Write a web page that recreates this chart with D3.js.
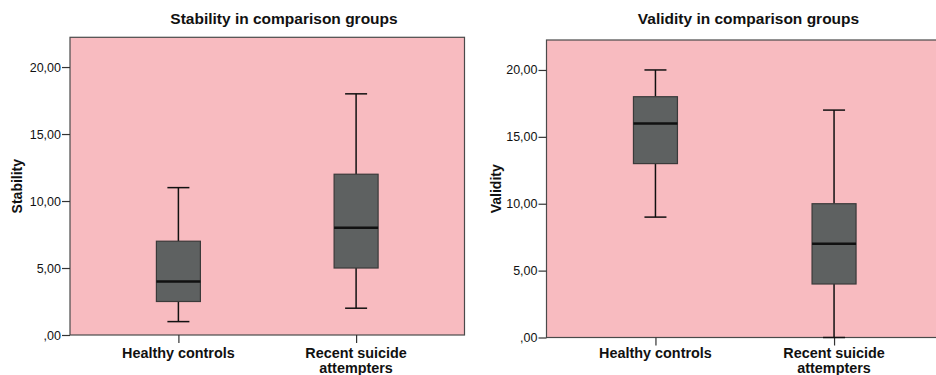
<!DOCTYPE html>
<html><head><meta charset="utf-8">
<script src="https://cdn.jsdelivr.net/npm/d3@7"></script>
<style>
html,body{margin:0;padding:0;background:#fff;}
svg{display:block;font-family:"Liberation Sans",Arial,sans-serif;}
</style></head>
<body><svg id="c" width="936" height="375"></svg>
<script>
// Data
const categories = ["Healthy controls", "Recent suicide attempters"];
const categoryLines = [["Healthy controls"], ["Recent suicide", "attempters"]];
const yTicks = [0, 5, 10, 15, 20];
// box stats: [min, q1, median, q3, max]
const stabilityStats = [[1, 2.5, 4, 7, 11], [2, 5, 8, 12, 18]];
const validityStats = [[9, 13, 16, 18, 20], [0, 4, 7, 10, 17]];
const titles = ["Stability in comparison groups", "Validity in comparison groups"];
const yLabels = ["Stability", "Validity"];

const svg = d3.select("#c");
const fmt = d => d === 0 ? ",00" : d.toFixed(2).replace(".", ",");

const panels = [
  {stats: stabilityStats, title: titles[0], ylab: yLabels[0], x0: 70, x1: 464.5, y0: 37.3, y1: 335, yTop: 22.22, titleX: 284, ylabX: 17},
  {stats: validityStats, title: titles[1], ylab: yLabels[1], x0: 546.5, x1: 943, y0: 40, y1: 337.5, yTop: 22.24, titleX: 748.5, ylabX: 496}
];

panels.forEach(p => {
  const g = svg.append("g");
  const y = d3.scaleLinear().domain([0, p.yTop]).range([p.y1, p.y0]);
  const x = d3.scalePoint().domain(categories).range([p.x0, p.x1]).padding(0.61);

  g.append("rect").attr("x", p.x0).attr("y", p.y0)
    .attr("width", p.x1 - p.x0).attr("height", p.y1 - p.y0)
    .attr("fill", "#F8BBC0").attr("stroke", "#4a4a4a").attr("stroke-width", 1.2);

  // Y axis
  const ya = g.append("g").attr("transform", `translate(${p.x0},0)`)
    .call(d3.axisLeft(y).tickValues(yTicks).tickFormat(fmt).tickSize(8).tickPadding(1));
  ya.select(".domain").remove();
  ya.selectAll(".tick line").attr("stroke", "#333").attr("stroke-width", 1.2);
  ya.selectAll(".tick text").attr("font-size", 12.5).attr("fill", "#111")
    .attr("font-family", "'Liberation Sans',Arial,sans-serif");

  // X axis
  const xa = g.append("g").attr("transform", `translate(0,${p.y1})`)
    .call(d3.axisBottom(x).tickSize(8).tickFormat(""));
  xa.select(".domain").remove();
  xa.selectAll(".tick line").attr("stroke", "#333").attr("stroke-width", 1.2);

  categories.forEach((c, i) => {
    categoryLines[i].forEach((ln, j) => {
      g.append("text").attr("x", x(c)).attr("y", 358 + j * 15)
        .attr("text-anchor", "middle").attr("font-size", 14.4).attr("font-weight", "bold").attr("fill", "#111")
        .text(ln);
    });
  });

  // Boxes
  const bw = 44, cw = 22;
  p.stats.forEach((s, i) => {
    const cx = x(categories[i]);
    const [mn, q1, md, q3, mx] = s;
    const bg = g.append("g");
    bg.append("line").attr("x1", cx).attr("x2", cx).attr("y1", y(mx)).attr("y2", y(q3)).attr("stroke", "#111").attr("stroke-width", 1.5);
    bg.append("line").attr("x1", cx).attr("x2", cx).attr("y1", y(q1)).attr("y2", y(mn)).attr("stroke", "#111").attr("stroke-width", 1.5);
    bg.append("line").attr("x1", cx - cw/2).attr("x2", cx + cw/2).attr("y1", y(mx)).attr("y2", y(mx)).attr("stroke", "#111").attr("stroke-width", 1.5);
    bg.append("line").attr("x1", cx - cw/2).attr("x2", cx + cw/2).attr("y1", y(mn)).attr("y2", y(mn)).attr("stroke", "#111").attr("stroke-width", 1.5);
    bg.append("rect").attr("x", cx - bw/2).attr("y", y(q3)).attr("width", bw).attr("height", y(q1) - y(q3))
      .attr("fill", "#5E6161").attr("stroke", "#3a3a3a").attr("stroke-width", 1.2);
    bg.append("line").attr("x1", cx - bw/2).attr("x2", cx + bw/2).attr("y1", y(md)).attr("y2", y(md)).attr("stroke", "#111").attr("stroke-width", 2.5);
  });

  // Title
  g.append("text").attr("x", p.titleX).attr("y", 24).attr("text-anchor", "middle")
    .attr("font-size", 15.5).attr("font-weight", "bold").attr("fill", "#111").text(p.title);
  // Y label
  const cy = (p.y0 + p.y1) / 2;
  g.append("text").attr("transform", `translate(${p.ylabX},${cy}) rotate(-90)`)
    .attr("text-anchor", "middle").attr("dy", "0.35em")
    .attr("font-size", 14).attr("font-weight", "bold").attr("fill", "#111").text(p.ylab);
});
</script></body></html>
